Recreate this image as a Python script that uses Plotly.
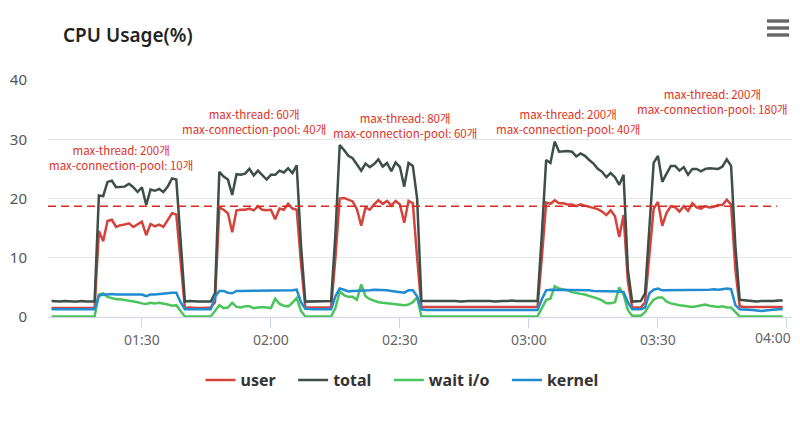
import pandas as pd
import plotly.graph_objects as go

# ---------------- data (1-minute samples starting 01:09) ----------------
start_time = "2020-01-01 01:09"

user = [
    1.5, 1.5, 1.6, 1.5, 1.5, 1.5, 1.6, 1.5, 1.5, 1.5, 1.5,
    14.5, 12.8, 16.2, 16.4, 15.2, 15.5, 15.6, 15.8, 15.2, 15.6, 16.1, 13.8, 15.7, 15.3, 15.6, 15.2, 16.3, 17.5, 17.3, 9.0,
    1.5, 1.6, 1.5, 1.5, 1.5, 1.5, 1.6,
    2.5,
    18.5, 18.1, 17.5, 14.3, 18.0, 18.1, 18.1, 18.3, 18.0, 18.7, 18.1, 18.0, 18.1, 16.5, 18.3, 18.1, 19.1, 18.3, 18.1,
    9.0, 1.6,
    1.6, 1.6, 1.6, 1.5, 1.6, 1.6,
    10.0,
    20.0, 20.1, 19.8, 19.5, 18.2, 15.4, 18.5, 18.1, 19.0, 19.7, 19.1, 19.6, 18.8, 19.6, 19.0, 15.9, 19.6, 19.2,
    10.0, 1.7,
    1.7, 1.7, 1.6, 1.7, 1.7, 1.7, 1.6, 1.7, 1.7, 1.7, 1.6, 1.7, 1.7, 1.7, 1.7, 1.6, 1.7, 1.7, 1.7, 1.6, 1.7, 1.7, 1.7, 1.7, 1.7, 1.6, 1.7,
    10.0,
    19.3, 19.1, 19.7, 19.2, 19.2, 19.0, 19.0, 18.7, 19.0, 18.8, 18.6, 18.4, 18.2, 17.8, 17.2, 18.0, 17.0, 13.5, 17.2,
    6.0,
    1.6, 1.6, 1.6,
    2.5, 11.0,
    18.3, 19.4, 15.4, 17.6, 18.7, 18.5, 17.8, 18.7, 17.9, 19.2, 18.5, 18.3, 18.7, 18.5, 18.6, 18.9, 18.9, 19.8, 19.0,
    8.0,
    1.8, 1.7, 1.7, 1.7, 1.7, 1.7, 1.7, 1.6, 1.7, 1.7, 1.7,
]

total = [
    2.7, 2.6, 2.6, 2.7, 2.6, 2.6, 2.6, 2.7, 2.6, 2.6, 2.6,
    20.5, 20.4, 22.8, 23.0, 21.9, 21.9, 22.0, 22.5, 21.9, 21.1, 21.9, 18.9, 21.5, 21.3, 21.6, 21.1, 22.0, 23.4, 23.2, 13.0,
    2.6, 2.7, 2.6, 2.6, 2.6, 2.6, 2.6,
    4.0,
    24.5, 23.7, 23.2, 20.6, 24.1, 24.0, 24.2, 25.0, 23.9, 24.7, 23.9, 23.2, 24.0, 24.0, 24.7, 24.4, 25.1, 24.3, 25.6,
    12.0, 2.6,
    2.6, 2.7, 2.6, 2.6, 2.6, 2.7,
    14.0,
    29.0, 28.2, 27.2, 26.8, 25.8, 24.7, 25.9, 25.3, 25.8, 26.6, 25.4, 26.0, 24.6, 26.1, 25.3, 22.0, 26.0, 25.5,
    20.0, 2.7,
    2.7, 2.7, 2.8, 2.7, 2.7, 2.7, 2.8, 2.7, 2.6, 2.7, 2.7, 2.7, 2.7, 2.8, 2.7, 2.7, 2.6, 2.7, 2.7, 2.7, 2.8, 2.7, 2.7, 2.7, 2.6, 2.7, 2.7,
    14.0,
    26.5, 26.0, 29.6, 27.9, 28.0, 28.0, 27.9, 27.1, 27.6, 27.2, 26.5, 25.9, 25.0, 24.5, 23.6, 24.3, 23.6, 22.3, 24.0,
    8.0,
    2.6, 2.6, 2.7,
    4.0, 15.0,
    26.0, 27.2, 22.8, 24.2, 25.5, 25.5, 24.7, 25.3, 24.0, 25.0, 25.0, 24.6, 25.0, 25.1, 25.0, 25.0, 25.4, 26.6, 25.5,
    12.0,
    2.9, 2.8, 2.7, 2.6, 2.6, 2.7, 2.7, 2.6, 2.7, 2.8, 2.8,
]

wait_io = [
    0.1, 0.1, 0.1, 0.1, 0.1, 0.1, 0.1, 0.1, 0.1, 0.1, 0.1,
    3.8, 4.0, 3.4, 3.2, 3.0, 3.0, 2.9, 2.8, 2.7, 2.5, 2.3, 2.2, 2.4, 2.3, 2.4, 2.3, 2.1, 1.9, 2.0, 1.0,
    0.1, 0.1, 0.1, 0.1, 0.1, 0.1, 0.1,
    1.0,
    2.0, 1.5, 1.6, 2.4, 1.7, 1.6, 1.8, 1.8, 1.5, 1.6, 1.7, 1.6, 1.5, 3.1, 2.2, 1.9, 1.8, 2.4, 3.2,
    1.0, 0.1,
    0.1, 0.1, 0.1, 0.1, 0.1, 0.1,
    1.5,
    4.3, 3.7, 3.4, 3.4, 2.9, 5.5, 3.5, 3.0, 2.7, 2.5, 2.4, 2.3, 2.3, 2.2, 2.1, 2.0, 2.1, 2.5,
    3.3, 0.1,
    0.1, 0.1, 0.1, 0.1, 0.1, 0.1, 0.1, 0.1, 0.1, 0.1, 0.1, 0.1, 0.1, 0.1, 0.1, 0.1, 0.1, 0.1, 0.1, 0.1, 0.1, 0.1, 0.1, 0.1, 0.1, 0.1, 0.1,
    1.5,
    2.9, 3.1, 5.2, 4.8, 4.7, 4.5, 4.2, 4.0, 3.9, 3.8, 3.6, 3.4, 3.1, 2.8, 2.3, 2.3, 2.5, 5.0, 3.8,
    1.2,
    0.2, 0.2, 0.2,
    0.8, 2.0,
    2.9, 3.3, 3.3, 2.6, 2.3, 2.1, 2.0, 1.9, 1.8, 1.7, 1.8, 1.9, 2.1, 1.9, 1.8, 1.7, 1.8, 1.6, 1.6,
    0.8,
    0.1, 0.1, 0.1, 0.1, 0.1, 0.1, 0.1, 0.1, 0.1, 0.1, 0.1,
]

kernel = [
    1.3, 1.3, 1.3, 1.3, 1.3, 1.3, 1.3, 1.3, 1.3, 1.3, 1.3,
    3.6, 3.8, 3.8, 3.9, 3.8, 3.8, 3.9, 3.8, 3.8, 3.9, 3.8, 3.5, 3.8, 3.8, 3.9, 3.9, 4.0, 4.1, 4.1, 2.5,
    1.3, 1.3, 1.3, 1.3, 1.3, 1.3, 1.3,
    3.4,
    4.4, 4.4, 4.1, 4.0, 4.4, 4.4, 4.4, 4.5, 4.4, 4.4, 4.5, 4.4, 4.4, 4.5, 4.4, 4.5, 4.5, 4.5, 4.6,
    2.5, 1.4,
    1.3, 1.3, 1.3, 1.3, 1.3, 1.3,
    3.5,
    4.8, 4.6, 4.3, 4.4, 4.4, 4.4, 4.4, 4.5, 4.6, 4.6, 4.5, 4.5, 4.4, 4.3, 4.2, 4.1, 4.5, 4.5,
    3.5, 1.3,
    1.2, 1.2, 1.2, 1.2, 1.2, 1.2, 1.2, 1.2, 1.2, 1.2, 1.2, 1.2, 1.2, 1.2, 1.2, 1.2, 1.2, 1.2, 1.2, 1.2, 1.2, 1.2, 1.2, 1.2, 1.2, 1.2, 1.2,
    3.0,
    4.5, 4.6, 4.6, 4.6, 4.6, 4.5, 4.5, 4.5, 4.5, 4.5, 4.5, 4.4, 4.4, 4.4, 4.4, 4.3, 4.3, 4.3, 4.2,
    2.5,
    1.3, 1.3, 1.3,
    1.6, 4.0,
    4.6, 4.8, 4.5, 4.5, 4.6, 4.6, 4.5, 4.6, 4.6, 4.6, 4.5, 4.6, 4.6, 4.6, 4.7, 4.6, 4.7, 4.8, 4.7,
    2.0,
    1.3, 1.3, 1.2, 1.2, 1.1, 1.0, 1.1, 1.2, 1.3, 1.3, 1.3,
]

series_names = ["user", "total", "wait i/o", "kernel"]
series_colors = ["#d4443c", "#3d4f47", "#4cc45c", "#1f8bd1"]

ref_value = 18.7
ref_span = ["2020-01-01 01:08:10", "2020-01-01 03:57:40"]

x_range = ["2020-01-01 01:08:10", "2020-01-01 04:01:10"]
tick_times = ["2020-01-01 01:30", "2020-01-01 02:00", "2020-01-01 02:30",
              "2020-01-01 03:00", "2020-01-01 03:30", "2020-01-01 04:00"]
tick_labels = ["01:30", "02:00", "02:30", "03:00", "03:30", "04:00"]

note_texts = [
    "max-thread: 200개<br>max-connection-pool: 10개",
    "max-thread: 60개<br>max-connection-pool: 40개",
    "max-thread: 80개<br>max-connection-pool: 60개",
    "max-thread: 200개<br>max-connection-pool: 40개",
    "max-thread: 200개<br>max-connection-pool: 180개",
]
note_x = ["2020-01-01 01:25:15", "2020-01-01 01:56:05", "2020-01-01 02:31:10",
          "2020-01-01 03:09:05", "2020-01-01 03:42:40"]
note_y = [27.0, 33.0, 32.4, 33.0, 36.4]

# ---------------- figure ----------------
times = pd.date_range(start_time, periods=len(total), freq="min")
values = [user, total, wait_io, kernel]
NB = "\u00a0"
legend_pad = [NB * 3, NB * 3, NB * 3, ""]

fig = go.Figure()
for name, color, vals, pad in zip(series_names, series_colors, values, legend_pad):
    fig.add_trace(go.Scatter(
        x=times[:len(vals)], y=vals, name=name + pad, mode="lines",
        line=dict(color=color, width=2.5),
    ))

fig.add_trace(go.Scatter(
    x=ref_span, y=[ref_value, ref_value], mode="lines", showlegend=False,
    line=dict(color="#d42a20", width=1.6, dash="8px,5px"),
))

for t, xx, yy in zip(note_texts, note_x, note_y):
    fig.add_annotation(
        x=xx, y=yy, text=t, showarrow=False, xanchor="center", yanchor="middle",
        font=dict(family="Noto Sans CJK KR", size=11.5, color="#e0321f"),
        align="center",
    )

# last tick label kept inside the chart (as the original does)
fig.add_annotation(
    x=tick_times[-1], xref="x", y=-20 / 237, yref="paper", text=tick_labels[-1],
    showarrow=False, xanchor="right", yanchor="middle", xshift=6,
    font=dict(family="Noto Sans", size=14, color="#666666"),
)

# hamburger menu icon
for cy in [21, 28, 35]:
    fig.add_shape(
        type="rect", xref="paper", yref="paper",
        x0=(767 - 48) / 744, x1=(789 - 48) / 744,
        y0=(317 - (cy + 1.7)) / 237, y1=(317 - (cy - 1.7)) / 237,
        fillcolor="#666666", line=dict(width=0),
    )

fig.update_layout(
    width=800, height=423,
    margin=dict(l=48, r=8, t=80, b=106),
    paper_bgcolor="white", plot_bgcolor="white",
    title=dict(
        text="CPU Usage(%)", x=63 / 800, xanchor="left", y=1 - 35 / 423, yanchor="middle",
        font=dict(family="Noto Sans", size=19, color="#222222", weight=600),
    ),
    showlegend=True,
    legend=dict(
        orientation="h", x=(402 - 48) / 744, xanchor="center", y=-0.266, yanchor="middle",
        font=dict(family="Noto Sans", size=16, color="#333333", weight="bold"),
        itemwidth=30, tracegroupgap=0,
    ),
    hovermode=False,
    xaxis=dict(
        type="date", range=x_range, tickvals=tick_times,
        ticktext=tick_labels[:-1] + [""],
        showgrid=False, showline=True, linecolor="#ccd6eb", linewidth=1,
        ticks="outside", ticklen=10, tickcolor="#ccd6eb",
        tickfont=dict(family="Noto Sans", size=14, color="#666666"),
        zeroline=False,
    ),
    yaxis=dict(
        range=[0, 40], tickvals=[0, 10, 20, 30, 40],
        showgrid=True, gridcolor="#e6e6e6", gridwidth=1,
        ticks="outside", ticklen=17, tickcolor="rgba(0,0,0,0)",
        tickfont=dict(family="Noto Sans", size=15, color="#555555"),
        zeroline=False, showline=False,
    ),
)

fig.write_html("out.html", config={"displayModeBar": False})
